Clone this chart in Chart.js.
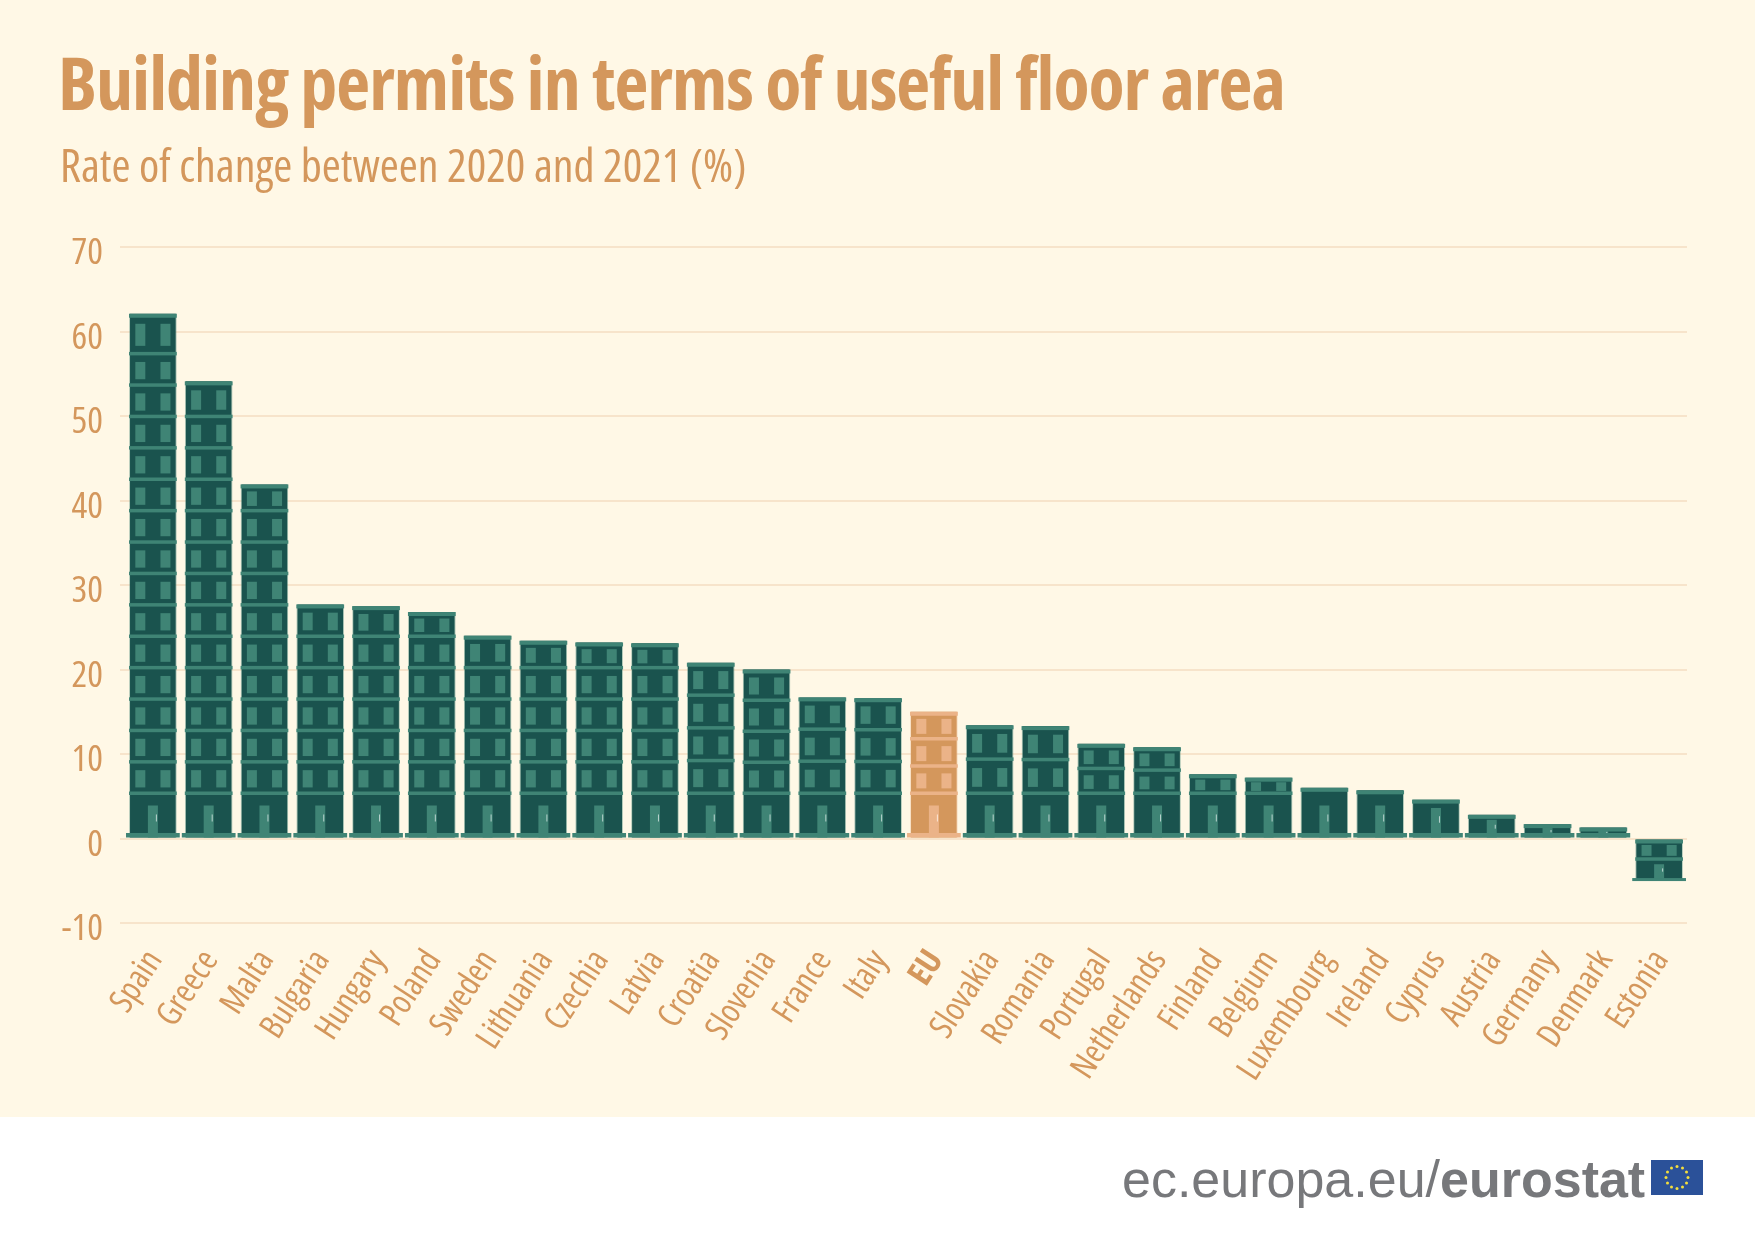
<!DOCTYPE html>
<html>
<head>
<meta charset="utf-8">
<title>Building permits in terms of useful floor area</title>
<script src="https://cdn.jsdelivr.net/npm/chart.js@4"></script>
<style>
  html, body { margin: 0; padding: 0; background: #fff; }
  #page { position: relative; width: 1755px; height: 1238px; overflow: hidden; }
  #banner { position: absolute; left: 0; top: 0; width: 1755px; height: 1117px; background: #fff8e6; }
  #chart { position: absolute; left: 0; top: 0; }
  .txt { position: absolute; white-space: nowrap; line-height: 1; }
  #title { left: 58px; top: 31px; font: bold 74px "Open Sans", sans-serif; font-stretch: 75%; letter-spacing: -1px; color: #d4975c; }
  #subtitle { left: 60px; top: 133px; font: 46px "Open Sans", sans-serif; font-stretch: 75%; color: #d4975c; }
  #footer { left: 1122px; top: 1149px; font: 52px "Liberation Sans", sans-serif; color: #77787b; }
  #footer b { font-weight: bold; }
  #flag { position: absolute; left: 1651px; top: 1160px; }
</style>
</head>
<body>
<div id="page">
  <div id="banner"></div>
  <canvas id="chart" width="1755" height="1238"></canvas>
  <div id="title" class="txt">Building permits in terms of useful floor area</div>
  <div id="subtitle" class="txt">Rate of change between 2020 and 2021 (%)</div>
  <div id="footer" class="txt">ec.europa.eu/<b>eurostat</b></div>
  <svg id="flag" width="52" height="35"></svg>
</div>
<script>
  const categories = ['Spain', 'Greece', 'Malta', 'Bulgaria', 'Hungary', 'Poland', 'Sweden',
    'Lithuania', 'Czechia', 'Latvia', 'Croatia', 'Slovenia', 'France', 'Italy', 'EU',
    'Slovakia', 'Romania', 'Portugal', 'Netherlands', 'Finland', 'Belgium', 'Luxembourg',
    'Ireland', 'Cyprus', 'Austria', 'Germany', 'Denmark', 'Estonia'];
  const changeValues = [62.1, 54.1, 41.9, 27.7, 27.5, 26.8, 24.0, 23.4, 23.2, 23.1, 20.8, 20.0,
    16.7, 16.6, 15.0, 13.4, 13.3, 11.2, 10.8, 7.6, 7.2, 6.0, 5.7, 4.6, 2.8, 1.7, 1.3, -4.8];
  const yMin = -10;
  const yMax = 70;
  const yStep = 10;

  const tan = '#d4975c';
  const gridColor = '#f7e4cb';
  const labelFamily = '"Open Sans", sans-serif';
  const greenPalette = { body: '#1a534e', trim: '#3f8475', handle: '#b9d3ce' };
  const euPalette = { body: '#d4975c', trim: '#ebb388', handle: '#fbe6d4' };

  function drawBuilding(ctx, bar, palette) {
    const left = bar.x - bar.width / 2;
    const width = bar.width;
    const top = Math.min(bar.y, bar.base);
    const bottom = Math.max(bar.y, bar.base);
    const height = bottom - top;
    const below = bar.y > bar.base;

    // ground floor has a fixed height, what is left is split in storeys
    const groundHeight = below ? height / 2 : 44;
    const upper = height - groundHeight;
    const floors = below ? 1 : Math.max(0, Math.round((upper + 3) / 31.5));
    // tall buildings share one storey height, the top storey takes the rest
    const step = floors >= 5 ? 31.4 : upper / (floors || 1);

    ctx.fillStyle = palette.trim;
    ctx.globalAlpha = 0.5;
    ctx.fillRect(left - 0.7, top, 0.7, height);
    ctx.fillRect(left + width, top, 0.7, height);
    ctx.globalAlpha = 1;

    const groundTop = bottom - groundHeight;
    for (let i = 0; i < floors; i++) {
      const floorBottom = groundTop - i * step;
      const floorTop = i === floors - 1 ? top : floorBottom - step;
      const floorHeight = floorBottom - floorTop;
      const windowHeight = floorHeight * 0.55;
      const windowTop = floorTop + (floorHeight - windowHeight) / 2 + 1;
      ctx.fillRect(left + 5.3, windowTop, 10, windowHeight);
      ctx.fillRect(left + width - 15.3, windowTop, 10, windowHeight);
      ctx.fillRect(left - 1, floorBottom - 2, width + 2, 3.5);
    }
    ctx.fillRect(left - 1, top, width + 2, 4);

    // door and handle
    const doorHeight = below ? groundHeight * 0.75 : Math.min(32, height * 0.78);
    ctx.fillRect(bar.x - 5, bottom - doorHeight, 10, doorHeight);
    ctx.fillStyle = palette.handle;
    ctx.fillRect(bar.x + 3, bottom - doorHeight * 0.72, 1, doorHeight * 0.22);

    // plinth
    ctx.fillStyle = palette.trim;
    if (below) ctx.fillRect(left - 4, bottom - 1, width + 8, 3);
    else ctx.fillRect(left - 4, bottom - 4.5, width + 8, 4.5);
  }

  const buildingPlugin = {
    id: 'buildings',
    afterDatasetsDraw(chart) {
      const ctx = chart.ctx;
      ctx.save();
      chart.getDatasetMeta(0).data.forEach((bar, i) => {
        drawBuilding(ctx, bar, categories[i] === 'EU' ? euPalette : greenPalette);
      });
      ctx.restore();
    }
  };

  new Chart(document.getElementById('chart'), {
    type: 'bar',
    data: {
      labels: categories,
      datasets: [{
        data: changeValues,
        backgroundColor: categories.map((c) => (c === 'EU' ? euPalette.body : greenPalette.body)),
        barPercentage: 0.82,
        categoryPercentage: 1
      }]
    },
    plugins: [buildingPlugin],
    options: {
      responsive: false,
      devicePixelRatio: 1,
      animation: false,
      layout: { padding: { top: 247, right: 68, bottom: 0, left: 0 } },
      plugins: { legend: { display: false }, tooltip: { enabled: false } },
      scales: {
        x: {
          afterFit: (scale) => { scale.height = 315; },
          grid: { display: false, drawTicks: false },
          border: { display: false },
          ticks: {
            autoSkip: false,
            minRotation: 57,
            maxRotation: 57,
            padding: 20,
            labelOffset: 2,
            color: tan,
            // weight goes straight into the canvas font string, so it can carry the stretch too
            font: (ctx) => ({
              family: labelFamily,
              size: 34,
              weight: categories[ctx.index] === 'EU' ? 'bold condensed' : 'condensed'
            })
          }
        },
        y: {
          min: yMin,
          max: yMax,
          afterFit: (scale) => { scale.width = 125; },
          grid: { color: gridColor, lineWidth: 2, tickColor: gridColor, tickLength: 5 },
          border: { display: false },
          ticks: {
            stepSize: yStep,
            padding: 17,
            labelOffset: 6.5,
            color: tan,
            font: { family: labelFamily, size: 37, weight: 'condensed' }
          }
        }
      }
    }
  });

  // EU flag in the footer
  const flag = document.getElementById('flag');
  let flagMarkup = '<rect width="52" height="35" fill="#2b5199"/>';
  for (let i = 0; i < 12; i++) {
    const angle = i * Math.PI / 6;
    const cx = 26 + 11 * Math.cos(angle);
    const cy = 17.5 + 11 * Math.sin(angle);
    flagMarkup += `<circle cx="${cx}" cy="${cy}" r="1.5" fill="#f5df3c"/>`;
  }
  flag.innerHTML = flagMarkup;
</script>
</body>
</html>
